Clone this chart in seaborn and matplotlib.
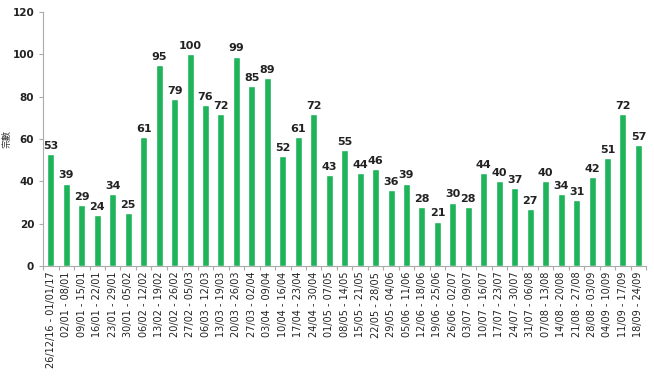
import matplotlib
matplotlib.use("Agg")
import matplotlib.pyplot as plt
import seaborn as sns
import pandas as pd

weeks = [
    "26/12/16 - 01/01/17", "02/01 - 08/01", "09/01 - 15/01", "16/01 - 22/01",
    "23/01 - 29/01", "30/01 - 05/02", "06/02 - 12/02", "13/02 - 19/02",
    "20/02 - 26/02", "27/02 - 05/03", "06/03 - 12/03", "13/03 - 19/03",
    "20/03 - 26/03", "27/03 - 02/04", "03/04 - 09/04", "10/04 - 16/04",
    "17/04 - 23/04", "24/04 - 30/04", "01/05 - 07/05", "08/05 - 14/05",
    "15/05 - 21/05", "22/05 - 28/05", "29/05 - 04/06", "05/06 - 11/06",
    "12/06 - 18/06", "19/06 - 25/06", "26/06 - 02/07", "03/07 - 09/07",
    "10/07 - 16/07", "17/07 - 23/07", "24/07 - 30/07", "31/07 - 06/08",
    "07/08 - 13/08", "14/08 - 20/08", "21/08 - 27/08", "28/08 - 03/09",
    "04/09 - 10/09", "11/09 - 17/09", "18/09 - 24/09",
]
counts = [53, 39, 29, 24, 34, 25, 61, 95, 79, 100, 76, 72, 99, 85, 89, 52, 61, 72,
          43, 55, 44, 46, 36, 39, 28, 21, 30, 28, 44, 40, 37, 27, 40, 34, 31, 42,
          51, 72, 57]
y_label = "宗數"

df = pd.DataFrame({"week": weeks, "count": counts})

sns.set_theme(style="white")
plt.rcParams["font.family"] = ["DejaVu Sans", "Noto Sans CJK TC"]

fig = plt.figure(figsize=(6.54, 3.78), dpi=100)
ax = fig.add_axes([0.066, 0.296, 0.922, 0.672])

sns.barplot(data=df, x="week", y="count", color="#1fb35a", saturation=1,
            width=0.45, ax=ax)

for i, v in enumerate(counts):
    ax.text(i, v + 1.5, str(v), ha="center", va="bottom", fontsize=8,
            fontweight="bold", color="#222222")

ax.set_xlim(-0.5, len(weeks) - 0.5)
ax.set_ylim(0, 120)
ax.set_yticks(range(0, 121, 20))
ax.set_xlabel("")
ax.set_ylabel(y_label, family=["Noto Sans CJK TC"], fontsize=6.5, color="#333333")
ax.yaxis.set_label_coords(-0.052, 0.5)
ax.set_xticks([i for i in range(len(weeks))])
ax.set_xticklabels(weeks, rotation=90, fontsize=7, color="#222222")
ax.tick_params(axis="y", labelsize=7.5, colors="#222222", length=3, width=0.8,
               left=True, color="#aaaaaa")
ax.tick_params(axis="x", length=0, pad=4)
# minor ticks between categories
ax.set_xticks([i + 0.5 for i in range(-1, len(weeks))], minor=True)
ax.tick_params(axis="x", which="minor", length=3, width=0.8, color="#aaaaaa",
               bottom=True)
for lab in ax.get_yticklabels():
    lab.set_fontweight("bold")

for s in ["top", "right"]:
    ax.spines[s].set_visible(False)
for s in ["left", "bottom"]:
    ax.spines[s].set_color("#aaaaaa")
    ax.spines[s].set_linewidth(0.8)

fig.savefig("out.png", dpi=100, facecolor="white")
